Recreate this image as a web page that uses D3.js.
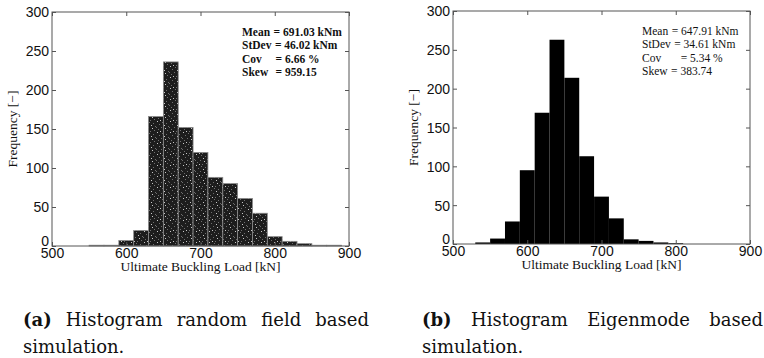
<!DOCTYPE html>
<html>
<head>
<meta charset="utf-8">
<script src="https://cdn.jsdelivr.net/npm/d3@7"></script>
<style>
  body { margin: 0; background: #fff; }
  svg { display: block; }
  .tick text { font-family: "Liberation Sans", Arial, sans-serif; font-size: 14px; fill: #111; }
</style>
</head>
<body>
<svg id="chart" width="764" height="358"></svg>
<script>
// histogram (a): random field based
var binStartA = [550, 570, 590, 610, 630, 650, 670, 690, 710, 730, 750, 770, 790, 810, 830, 850, 870];
var countA = [1, 1, 7, 20, 166, 236, 152, 120, 88, 80, 61, 42, 12, 6, 3, 1, 1];
var statLabelsA = ["Mean", "StDev", "Cov", "Skew"];
var statValuesA = ["691.03 kNm", "46.02 kNm", "6.66 %", "959.15"];

// histogram (b): eigenmode based
var binStartB = [530, 550, 570, 590, 610, 630, 650, 670, 690, 710, 730, 750, 770, 790];
var countB = [2, 7, 29, 95, 169, 263, 214, 113, 61, 33, 6, 4, 2, 1];
var statLabelsB = ["Mean", "StDev", "Cov", "Skew"];
var statValuesB = ["647.91 kNm", "34.61 kNm", "5.34 %", "383.74"];

var binWidth = 20;
var xTicks = [500, 600, 700, 800, 900];
var yTicks = [0, 50, 100, 150, 200, 250, 300];
var xTitle = "Ultimate Buckling Load [kN]";
var yTitle = "Frequency [\u2212]";
var captionA = ["(a)", "Histogram random field based", "simulation."];
var captionB = ["(b)", "Histogram Eigenmode based", "simulation."];

var svg = d3.select("#chart");

// stipple texture for the scanned grey bars (fixed speckle layout)
var defs = svg.append("defs");
var pat = defs.append("pattern").attr("id", "stipple")
  .attr("patternUnits", "userSpaceOnUse").attr("width", 13).attr("height", 11);
pat.append("rect").attr("width", 13).attr("height", 11).attr("fill", "#1d1d1d");
var speckles = [[1, 0], [6, 1], [10, 2], [3, 3], [8, 4], [12, 5], [0, 6], [5, 6],
  [9, 7], [2, 8], [11, 9], [7, 10], [4, 10]];
speckles.forEach(function (p, i) {
  pat.append("rect").attr("x", p[0]).attr("y", p[1]).attr("width", 1).attr("height", 1)
    .attr("fill", i % 4 == 0 ? "#c8c8c8" : "#6e6e6e");
});

var serif = "'Liberation Serif', 'Times New Roman', serif";

function drawHist(opt) {
  var x = d3.scaleLinear().domain([500, 900]).range([opt.left, opt.right]);
  var y = d3.scaleLinear().domain([0, 300]).range([opt.bottom, opt.top]);
  var g = svg.append("g");

  g.selectAll("rect.bar").data(opt.starts).enter().append("rect")
    .attr("class", "bar")
    .attr("x", function (d) { return x(d); })
    .attr("width", function (d) { return x(d + binWidth) - x(d); })
    .attr("y", function (d, i) { return y(opt.counts[i]); })
    .attr("height", function (d, i) { return y(0) - y(opt.counts[i]); })
    .attr("fill", opt.fill)
    .attr("stroke", opt.stroke)
    .attr("stroke-width", opt.stroke == "none" ? 0 : 0.8);

  // box
  g.append("rect").attr("x", opt.left).attr("y", opt.top)
    .attr("width", opt.right - opt.left).attr("height", opt.bottom - opt.top)
    .attr("fill", "none").attr("stroke", "#555").attr("stroke-width", 1);

  var xAxis = d3.axisBottom(x).tickValues(xTicks).tickSizeInner(-4).tickSizeOuter(0).tickPadding(2);
  var yAxis = d3.axisLeft(y).tickValues(yTicks).tickSizeInner(-4).tickSizeOuter(0).tickPadding(3);
  var gx = g.append("g").attr("transform", "translate(0," + opt.bottom + ")").call(xAxis);
  var gy = g.append("g").attr("transform", "translate(" + opt.left + ",0)").call(yAxis);
  // mirrored ticks on top and right
  var gx2 = g.append("g").attr("transform", "translate(0," + opt.top + ")")
    .call(d3.axisTop(x).tickValues(xTicks).tickSizeInner(-4).tickSizeOuter(0).tickFormat(""));
  var gy2 = g.append("g").attr("transform", "translate(" + opt.right + ",0)")
    .call(d3.axisRight(y).tickValues(yTicks).tickSizeInner(-4).tickSizeOuter(0).tickFormat(""));
  [gx, gy, gx2, gy2].forEach(function (a) {
    a.select(".domain").remove();
    a.selectAll(".tick line").attr("stroke", "#555");
  });
  gy.selectAll(".tick text").attr("dy", function (d) { return d == 0 ? "-0.05em" : "0.35em"; });

  g.append("text").attr("x", (opt.left + opt.right) / 2).attr("y", opt.bottom + 25)
    .attr("text-anchor", "middle")
    .style("font-family", serif).style("font-size", "13.5px")
    .attr("fill", "#111").text(xTitle);
  g.append("text")
    .attr("transform", "translate(" + (opt.left - 35) + "," + ((opt.top + opt.bottom) / 2) + ") rotate(-90)")
    .attr("text-anchor", "middle")
    .style("font-family", serif).style("font-size", "13.5px")
    .attr("fill", "#111").text(yTitle);

  // statistics block: "=" placed after the label, Cov/Skew aligned against Mean
  var st = g.append("g").style("font-family", serif)
    .style("font-size", "11.5px").style("font-weight", opt.bold ? "bold" : "normal").attr("fill", "#111");
  var eqMean = 0;
  opt.labels.forEach(function (lab, i) {
    var yy = opt.statY + i * 13.4;
    var t = st.append("text").attr("x", opt.statX).attr("y", yy).text(lab);
    var w = t.node().getComputedTextLength();
    var ex = opt.statX + w + 3.5;
    if (i == 0) eqMean = ex;
    if (opt.eqShift[i] != null) ex = Math.max(ex, eqMean + opt.eqShift[i]);
    st.append("text").attr("x", ex).attr("y", yy).text("= " + opt.values[i]);
  });

  // caption, justified to the column width
  var cap = svg.append("g").style("font-family", "'DejaVu Serif', serif").style("font-size", "18px").attr("fill", "#111");
  var l1 = cap.append("text").attr("x", opt.capX).attr("y", opt.capY);
  l1.append("tspan").style("font-weight", "bold").text(opt.caption[0]);
  l1.append("tspan").text(" " + opt.caption[1]);
  var natural = l1.node().getComputedTextLength();
  var spaces = (opt.caption[1].match(/ /g) || []).length + 1;
  l1.attr("word-spacing", Math.max(0, (opt.capW - natural) / spaces));
  cap.append("text").attr("x", opt.capX).attr("y", opt.capY + 27).text(opt.caption[2]);
}

drawHist({
  left: 52, right: 349, top: 12, bottom: 246,
  starts: binStartA, counts: countA,
  fill: "url(#stipple)", stroke: "#8a8a8a",
  labels: statLabelsA, values: statValuesA, bold: true,
  statX: 242, statY: 36, eqShift: [null, null, 2, 2],
  caption: captionA, capX: 23, capY: 326, capW: 346
});

drawHist({
  left: 453, right: 750, top: 11, bottom: 244,
  starts: binStartB, counts: countB,
  fill: "#000", stroke: "none",
  labels: statLabelsB, values: statValuesB, bold: false,
  statX: 642, statY: 35, eqShift: [null, null, 9, -1],
  caption: captionB, capX: 422, capY: 326, capW: 341
});
</script>
</body>
</html>
